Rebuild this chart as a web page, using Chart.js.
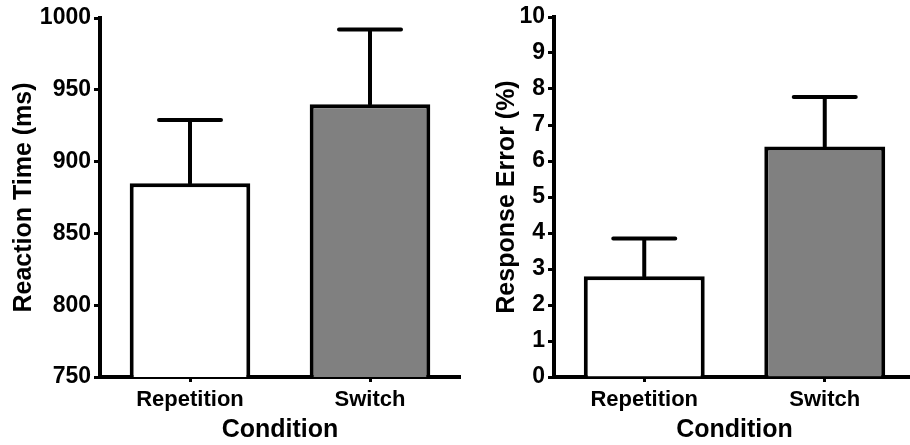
<!DOCTYPE html>
<html>
<head>
<meta charset="utf-8">
<script src="https://cdn.jsdelivr.net/npm/chart.js@4.4.1/dist/chart.umd.min.js"></script>
<style>
    body { margin: 0; background: #fff; overflow: hidden; }
    .panel { position: absolute; top: 0; height: 445px; }
    #left { left: 0; width: 470px; }
    #right { left: 455px; width: 460px; }
</style>
</head>
<body>
<div class="panel" id="left"><canvas id="rtChart"></canvas></div>
<div class="panel" id="right"><canvas id="errChart"></canvas></div>
<script>
// values
var categories = ['Repetition', 'Switch'];
var rtMeans = [885, 940];
var rtErrors = [44, 52];
var errMeans = [2.8, 6.4];
var errErrors = [1.05, 1.38];
var barColors = ['#ffffff', '#808080'];

var FONT = "'Liberation Sans', Arial, sans-serif";

// draws only the upper half of the error bar, the bar covers the rest
var errorBars = {
    id: 'errorBars',
    afterDatasetsDraw: function(chart, args, opts) {
        var ctx = chart.ctx;
        var yScale = chart.scales.y;
        var meta = chart.getDatasetMeta(0);
        var ds = chart.data.datasets[0];
        ctx.save();
        ctx.strokeStyle = '#000';
        ctx.lineWidth = 4;
        ctx.lineCap = 'round';
        meta.data.forEach(function(bar, i) {
            var top = yScale.getPixelForValue(ds.data[i] + opts.errors[i]);
            ctx.beginPath();
            ctx.moveTo(bar.x, bar.y);
            ctx.lineTo(bar.x, top);
            ctx.moveTo(bar.x - 31, top);
            ctx.lineTo(bar.x + 31, top);
            ctx.stroke();
        });
        ctx.restore();
    }
};

function makeChart(id, means, errors, yMin, yMax, yStep, yTitle, yWidth, titlePad, pad) {
    return new Chart(document.getElementById(id), {
        type: 'bar',
        data: {
            labels: categories,
            datasets: [{
                data: means,
                backgroundColor: barColors,
                borderColor: '#000',
                borderWidth: 4,
                borderSkipped: 'bottom',
                barPercentage: 0.67,
                categoryPercentage: 1
            }]
        },
        options: {
            responsive: true,
            maintainAspectRatio: false,
            animation: false,
            layout: { padding: pad },
            plugins: {
                legend: { display: false },
                tooltip: { enabled: false },
                errorBars: { errors: errors }
            },
            scales: {
                x: {
                    afterFit: function(s) { s.height = 68; },
                    grid: { offset: false, drawOnChartArea: false, tickLength: 5, tickWidth: 3, tickColor: '#000' },
                    border: { color: '#000', width: 4 },
                    ticks: { color: '#000', padding: 5, font: { family: FONT, size: 22, weight: 'bold' } },
                    title: { display: true, text: 'Condition', color: '#000', padding: { top: 2, bottom: 0 },
                             font: { family: FONT, size: 25, weight: 'bold' } }
                },
                y: {
                    min: yMin, max: yMax,
                    afterFit: function(s) { s.width = yWidth; },
                    grid: { drawOnChartArea: false, tickLength: 6, tickWidth: 3, tickColor: '#000' },
                    border: { color: '#000', width: 4 },
                    ticks: { stepSize: yStep, color: '#000', padding: 3,
                             callback: function(v) { return String(v); },
                             font: { family: FONT, size: 23, weight: 'bold' } },
                    title: { display: true, text: yTitle, color: '#000', padding: { top: titlePad, bottom: 0 },
                             font: { family: FONT, size: 25, weight: 'bold' } }
                }
            }
        },
        plugins: [errorBars]
    });
}

makeChart('rtChart', rtMeans, rtErrors, 750, 1000, 50, 'Reaction Time (ms)', 100, 9,
    { top: 18, right: 10, left: 0, bottom: 0 });
makeChart('errChart', errMeans, errErrors, 0, 10, 1, 'Response Error (%)', 99, 37,
    { top: 17, right: 0, left: 0, bottom: 0 });
</script>
</body>
</html>
